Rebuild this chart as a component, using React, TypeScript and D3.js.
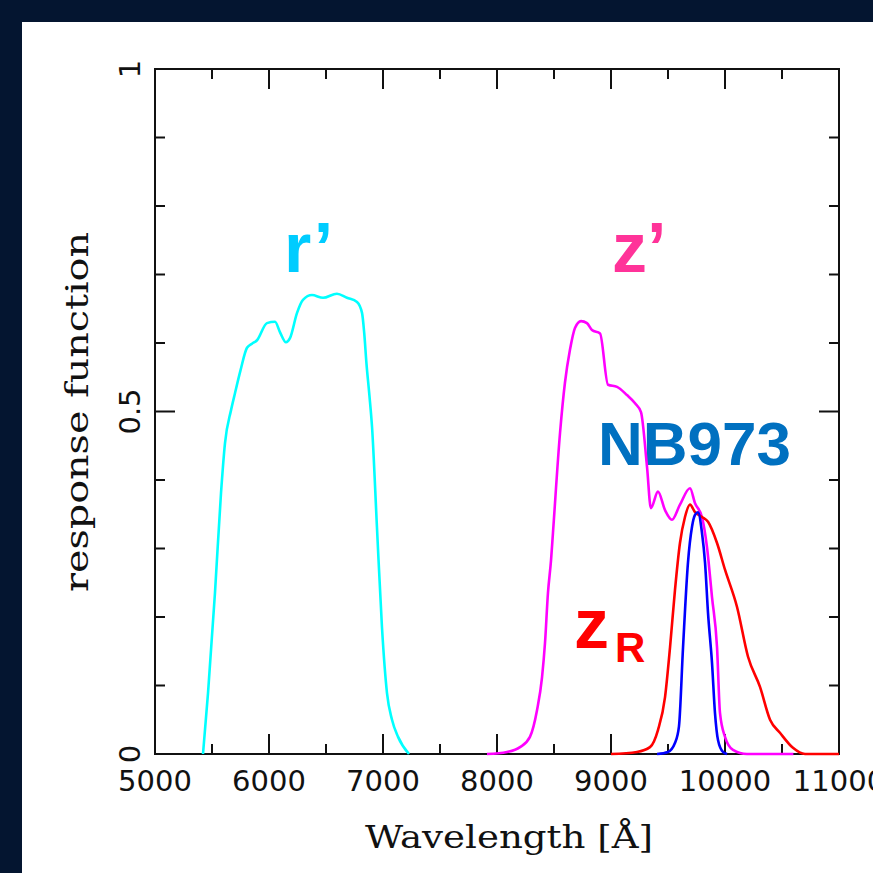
import React, { useEffect, useRef } from 'react';
import * as d3 from 'd3';

// filter response curves: wavelength [Å] and response
const rWave = [5421, 5465, 5526, 5579, 5614, 5667, 5702, 5750, 5807, 5851, 5895, 5982, 6053, 6096, 6149, 6184, 6246, 6298, 6377, 6474, 6596, 6684, 6772, 6816, 6835, 6855, 6880, 6904, 6947, 6991, 7035, 7079, 7132, 7228];
const rResp = [0, 0.089, 0.235, 0.381, 0.454, 0.502, 0.527, 0.56, 0.593, 0.599, 0.604, 0.629, 0.631, 0.616, 0.601, 0.607, 0.644, 0.663, 0.67, 0.666, 0.672, 0.666, 0.66, 0.644, 0.615, 0.57, 0.525, 0.477, 0.331, 0.185, 0.089, 0.05, 0.025, 0];

const zWave = [7912, 8088, 8202, 8289, 8351, 8395, 8421, 8447, 8474, 8491, 8553, 8596, 8640, 8684, 8737, 8789, 8833, 8904, 8974, 9053, 9140, 9211, 9263, 9316, 9350, 9412, 9474, 9535, 9605, 9693, 9737, 9798, 9842, 9886, 9930, 9956, 10000, 10070, 10193, 10600];
const zResp = [0, 0.003, 0.01, 0.025, 0.064, 0.112, 0.162, 0.235, 0.283, 0.323, 0.469, 0.542, 0.59, 0.622, 0.632, 0.629, 0.619, 0.614, 0.539, 0.536, 0.524, 0.512, 0.499, 0.419, 0.359, 0.383, 0.356, 0.342, 0.364, 0.388, 0.366, 0.346, 0.302, 0.229, 0.156, 0.06, 0.025, 0.006, 0, 0];

const zrWave = [9000, 9228, 9342, 9412, 9474, 9518, 9561, 9605, 9649, 9693, 9737, 9798, 9851, 9930, 10000, 10105, 10202, 10307, 10395, 10482, 10596, 10702, 11000];
const zrResp = [0, 0.003, 0.01, 0.035, 0.083, 0.156, 0.239, 0.308, 0.346, 0.364, 0.353, 0.346, 0.339, 0.308, 0.269, 0.215, 0.142, 0.098, 0.05, 0.031, 0.009, 0, 0];

const nbWave = [9404, 9500, 9561, 9596, 9632, 9675, 9711, 9737, 9763, 9798, 9825, 9851, 9886, 9912, 9939, 9982, 10018];
const nbResp = [0, 0.003, 0.016, 0.04, 0.156, 0.279, 0.332, 0.349, 0.353, 0.323, 0.279, 0.206, 0.133, 0.06, 0.02, 0.003, 0];

const xTicks = [5000, 6000, 7000, 8000, 9000, 10000, 11000];
const yTicks = [0, 0.5, 1];

const App = () => {
  const ref = useRef<SVGSVGElement>(null);

  useEffect(() => {
    const svg = d3.select(ref.current);
    svg.selectAll('*').remove();

    const W = 873;
    const left = 155, right = 839, top = 69, bottom = 754;

    svg.append('rect').attr('width', W).attr('height', W).attr('fill', '#041530');
    svg.append('rect').attr('x', 22).attr('y', 22).attr('width', W - 22).attr('height', W - 22).attr('fill', '#fff');

    const x = d3.scaleLinear().domain([5000, 11000]).range([left, right]);
    const y = d3.scaleLinear().domain([0, 1]).range([bottom, top]);

    const g = svg.append('g');

    // frame
    g.append('rect')
      .attr('x', left).attr('y', top)
      .attr('width', right - left).attr('height', bottom - top)
      .attr('fill', 'none').attr('stroke', '#111').attr('stroke-width', 2);

    // inward ticks on all four sides
    const xt = d3.range(5000, 11001, 500);
    xt.forEach(v => {
      const len = v % 1000 === 0 ? 20 : 10;
      g.append('line').attr('x1', x(v)).attr('x2', x(v)).attr('y1', bottom).attr('y2', bottom - len)
        .attr('stroke', '#111').attr('stroke-width', 2);
      g.append('line').attr('x1', x(v)).attr('x2', x(v)).attr('y1', top).attr('y2', top + len)
        .attr('stroke', '#111').attr('stroke-width', 2);
    });
    const yt = d3.range(0, 11).map(i => i / 10);
    yt.forEach(v => {
      const len = (Math.round(v * 10) % 5 === 0) ? 20 : 10;
      g.append('line').attr('x1', left).attr('x2', left + len).attr('y1', y(v)).attr('y2', y(v))
        .attr('stroke', '#111').attr('stroke-width', 2);
      g.append('line').attr('x1', right).attr('x2', right - len).attr('y1', y(v)).attr('y2', y(v))
        .attr('stroke', '#111').attr('stroke-width', 2);
    });

    // tick labels
    g.selectAll('.xl').data(xTicks).enter().append('text')
      .attr('x', d => x(d)).attr('y', 791)
      .attr('text-anchor', 'middle')
      .style('font-family', 'DejaVu Sans').style('font-size', '29px').attr('fill', '#111')
      .text(d => String(d));
    g.selectAll('.yl').data(yTicks).enter().append('text')
      .attr('transform', d => `translate(140,${y(d)}) rotate(-90)`)
      .attr('text-anchor', 'middle')
      .style('font-family', 'DejaVu Sans').style('font-size', '29px').attr('fill', '#111')
      .text(d => String(d));

    // axis titles
    g.append('text')
      .attr('x', 365).attr('y', 848)
      .attr('textLength', 288).attr('lengthAdjust', 'spacingAndGlyphs')
      .style('font-family', 'DejaVu Serif').style('font-size', '31px').attr('fill', '#111')
      .text('Wavelength [Å]');
    g.append('text')
      .attr('transform', 'translate(88,592) rotate(-90)')
      .attr('textLength', 360).attr('lengthAdjust', 'spacingAndGlyphs')
      .style('font-family', 'DejaVu Serif').style('font-size', '31px').attr('fill', '#111')
      .text('response function');

    // filter labels
    const lab = (tx: number, ty: number, txt: string, col: string, size: number) =>
      g.append('text').attr('x', tx).attr('y', ty)
        .style('font-family', 'Liberation Sans').style('font-weight', 'bold')
        .style('font-size', `${size}px`).attr('fill', col).text(txt);
    lab(284, 272, 'r’', '#00ccff', 70);
    lab(612, 272, 'z’', '#ff3399', 70);
    lab(598, 465, 'NB973', '#0070c0', 62);
    lab(574, 648, 'z', '#ff0000', 70);
    lab(615, 662, 'R', '#ff0000', 42);

    // curves
    const line = d3.line<[number, number]>()
      .x(d => x(d[0])).y(d => y(d[1]))
      .curve(d3.curveMonotoneX);
    const series: [number[], number[], string][] = [
      [rWave, rResp, '#00ffff'],
      [zWave, zResp, '#ff00ff'],
      [zrWave, zrResp, '#ff0000'],
      [nbWave, nbResp, '#0000ff'],
    ];
    series.forEach(([w, r, col]) => {
      g.append('path')
        .datum(w.map((v, i) => [v, r[i]] as [number, number]))
        .attr('d', line)
        .attr('fill', 'none')
        .attr('stroke', col)
        .attr('stroke-width', 2.6)
        .attr('stroke-linejoin', 'round');
    });
  }, []);

  return (
    <svg ref={ref} width={873} height={873} style={{ position: 'absolute', left: 0, top: 0 }}></svg>
  );
};

export default App;
